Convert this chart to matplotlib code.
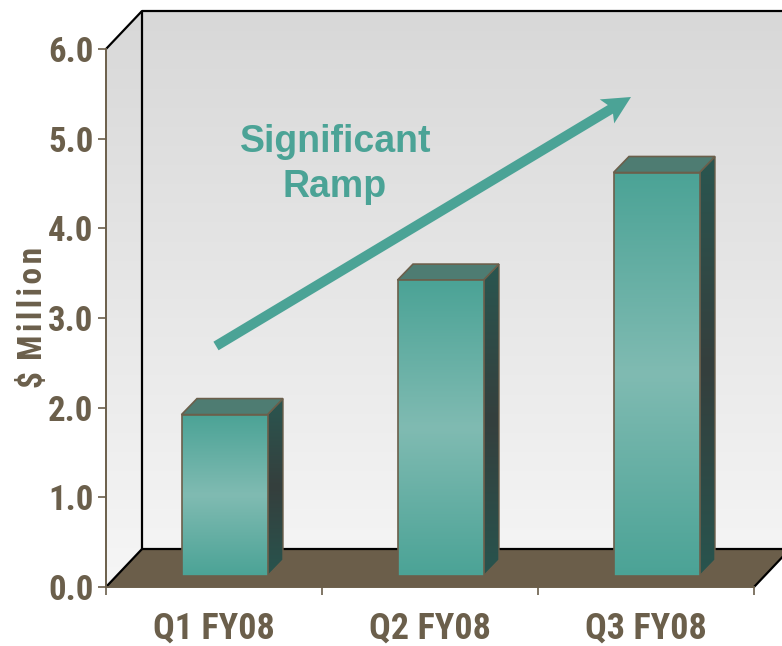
import matplotlib
matplotlib.use("Agg")
import numpy as np
import matplotlib.pyplot as plt
from matplotlib.colors import LinearSegmentedColormap
from matplotlib.patches import Polygon

quarters = ["Q1 FY08", "Q2 FY08", "Q3 FY08"]
revenue = [1.8, 3.3, 4.5]
y_ticks = [0, 1, 2, 3, 4, 5, 6]

TEAL = "#4ba396"
BROWN = "#6b5f4b"
FLOOR = "#6b5e4a"
NARROW = "Roboto Condensed"

# data units per pixel are handy for the fake 3D offsets
PX_X = 216.0
PX_Y = 538.0 / 6

wall_dx, wall_dy = 36 / PX_X, 38 / PX_Y
bar_dx, bar_dy = 15.5 / PX_X, 16 / PX_Y
bar_width = 86 / PX_X
bar_shift_x, bar_shift_y = 10.5 / PX_X, 11 / PX_Y

fig = plt.figure(figsize=(7.82, 6.46), dpi=100, facecolor="white")
ax = fig.add_axes([106 / 782, 59 / 646, 648 / 782, 538 / 646])
ax.patch.set_visible(False)

wall_cmap = LinearSegmentedColormap.from_list("wall", ["#d8d8d8", "#f6f6f6"])
front_cmap = LinearSegmentedColormap.from_list("front", [TEAL, "#80bbb2", TEAL])
side_cmap = LinearSegmentedColormap.from_list("side", ["#2a5650", "#353f3d", "#28544e"])
ramp = np.linspace(0, 1, 256).reshape(-1, 1)


def gradient_in(points, cmap, y_low, y_high, z):
    # vertical gradient clipped to a polygon, allowed to leave the axes box
    poly = Polygon(points, closed=True, facecolor="none", edgecolor="none", clip_on=False, zorder=z)
    ax.add_patch(poly)
    xs = [p[0] for p in points]
    im = ax.imshow(ramp, cmap=cmap, aspect="auto", zorder=z, origin="upper",
                   extent=[min(xs), max(xs), y_low, y_high])
    im.set_clip_path(poly)
    im.set_clip_box(fig.bbox)


# walls
right = 3.2
wall_top = 6 + wall_dy
gradient_in([(0, 0), (wall_dx, wall_dy), (wall_dx, wall_top), (0, 6)], wall_cmap, 0, wall_top, 1)
gradient_in([(wall_dx, wall_dy), (right, wall_dy), (right, wall_top), (wall_dx, wall_top)], wall_cmap, 0, wall_top, 1)

# floor
ax.add_patch(Polygon([(0, 0), (3, 0), (3 + wall_dx, wall_dy), (wall_dx, wall_dy)], closed=True,
                     facecolor=FLOOR, edgecolor="none", clip_on=False, zorder=2))

# outlines of the box
box_lines = dict(color="black", lw=1.6, clip_on=False, zorder=3, solid_capstyle="butt")
ax.plot([0, wall_dx, wall_dx, right], [6, wall_top, wall_top, wall_top], **box_lines)
ax.plot([wall_dx, wall_dx], [wall_dy, wall_top], **box_lines)
ax.plot([wall_dx, right], [wall_dy, wall_dy], **box_lines)
ax.plot([0, wall_dx], [0, wall_dy], **box_lines)
ax.plot([3, 3 + wall_dx], [0, wall_dy], **box_lines)

# bars
for i, value in enumerate(revenue):
    x0 = i + 0.5 + bar_shift_x - bar_width / 2
    x1 = x0 + bar_width
    y0 = bar_shift_y
    y1 = y0 + value

    gradient_in([(x1, y0), (x1 + bar_dx, y0 + bar_dy), (x1 + bar_dx, y1 + bar_dy), (x1, y1)],
                side_cmap, y0, y1 + bar_dy, 4)
    ax.add_patch(Polygon([(x1, y0), (x1 + bar_dx, y0 + bar_dy), (x1 + bar_dx, y1 + bar_dy), (x1, y1)],
                         closed=True, facecolor="none", edgecolor=BROWN, lw=1.0, zorder=5))
    ax.add_patch(Polygon([(x0, y1), (x0 + bar_dx, y1 + bar_dy), (x1 + bar_dx, y1 + bar_dy), (x1, y1)],
                         closed=True, facecolor="#4e7c72", edgecolor=BROWN, lw=1.2, zorder=5))
    gradient_in([(x0, y0), (x1, y0), (x1, y1), (x0, y1)], front_cmap, y0, y1, 6)
    ax.bar(x0 + bar_width / 2, value, bottom=y0, width=bar_width, facecolor="none",
           edgecolor=BROWN, lw=1.2, zorder=7)

# trend arrow, worked out in pixels so the head is not skewed by the axes scale
start = np.array([110.0, 241.0])
tip = np.array([525.0, 490.0])
along = (tip - start) / np.linalg.norm(tip - start)
across = np.array([-along[1], along[0]])
neck = tip - along * 24
barb = tip - along * 28
arrow_px = [start + across * 5, neck + across * 5, barb + across * 14,
            tip, barb - across * 14, neck - across * 5, start - across * 5]
arrow_data = [(p[0] / PX_X, p[1] / PX_Y) for p in arrow_px]
ax.add_patch(Polygon(arrow_data, closed=True, facecolor=TEAL, edgecolor="none", clip_on=False, zorder=8))

ax.text(230 / PX_X, 445 / PX_Y, "Significant", color=TEAL, fontsize=27, fontweight="bold",
        family="Liberation Sans", ha="center", va="center", zorder=9)
ax.text(229 / PX_X, 400 / PX_Y, "Ramp", color=TEAL, fontsize=27, fontweight="bold",
        family="Liberation Sans", ha="center", va="center", zorder=9)

# axes
ax.set_xlim(0, 3)
ax.set_ylim(0, 6)
for side in ["top", "right"]:
    ax.spines[side].set_visible(False)
for side in ["left", "bottom"]:
    ax.spines[side].set_color(BROWN)
    ax.spines[side].set_linewidth(1.4)
    ax.spines[side].set_zorder(3)

ax.set_yticks(y_ticks)
ax.set_yticklabels([f"{t:.1f}" for t in y_ticks], color=BROWN, fontsize=25, fontweight="bold", family=NARROW)
ax.set_xticks([0, 1, 2, 3])
ax.set_xticklabels([])
ax.set_xticks([i + 0.5 for i in range(len(quarters))], labels=quarters, minor=True)
for lab in ax.get_xticklabels(minor=True):
    lab.set(color=BROWN, fontsize=26, fontweight="bold", family=NARROW)
ax.tick_params(axis="both", which="major", color=BROWN, width=1.2, length=6, pad=3)
ax.tick_params(axis="x", which="minor", length=0, pad=17)

# hair spaces open up the letters of the axis title
fig.text(33 / 782, 1 - 317 / 646, "$ \u200aM\u200ai\u200al\u200al\u200ai\u200ao\u200an", color=BROWN,
         fontsize=24, fontweight="bold", family=NARROW, rotation=90, ha="center", va="center")

fig.savefig("out.png", dpi=100)
